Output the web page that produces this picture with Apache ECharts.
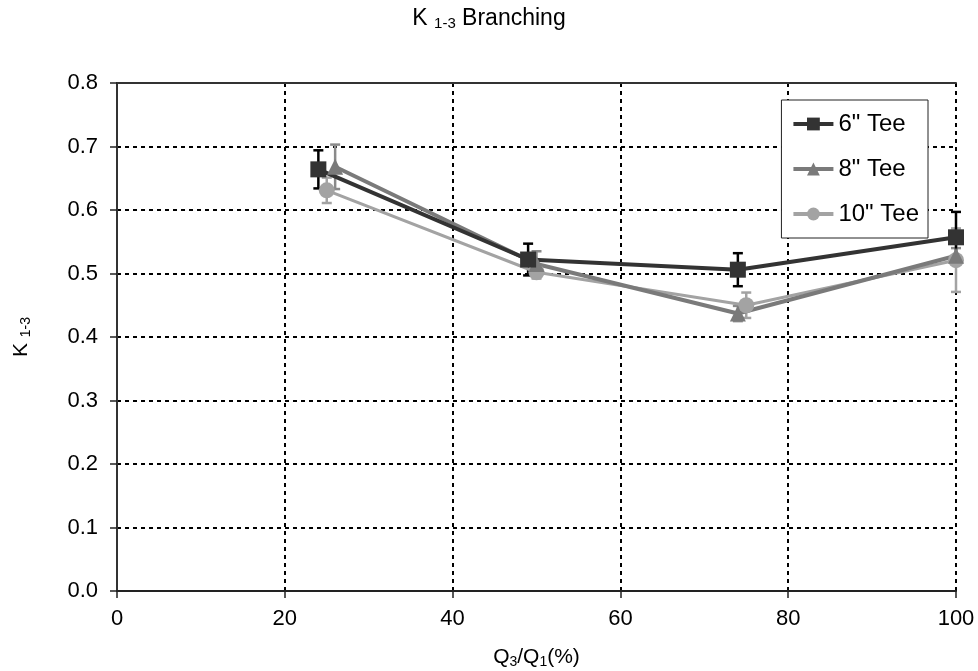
<!DOCTYPE html>
<html><head><meta charset="utf-8">
<script src="https://cdn.jsdelivr.net/npm/echarts@6/dist/echarts.min.js"></script>
<style>html,body{margin:0;padding:0;background:#fff}#c{width:978px;height:671px}</style>
</head><body><div id="c"></div>
<script>
const seriesNames = ['6" Tee', '8" Tee', '10" Tee'];
const x6 = [24, 49, 74, 100];
const y6 = [0.664, 0.522, 0.506, 0.557];
const e6 = [0.03, 0.025, 0.026, 0.04];
const x8 = [26, 50, 74, 100];
const y8 = [0.668, 0.515, 0.437, 0.528];
const e8 = [0.035, 0.02, 0.012, 0.012];
const x10 = [25, 50, 75, 100];
const y10 = [0.631, 0.502, 0.450, 0.521];
const e10 = [0.02, 0.01, 0.02, 0.05];
const colors = ['#333333', '#7a7a7a', '#a3a3a3'];
const capColors = ['#000000', '#8a8a8a', '#a3a3a3'];
const symbols = ['rect', 'triangle', 'circle'];
const sizes = [16, 16, 16];
const widths = [4, 4, 3];
const xTicks = [0, 20, 40, 60, 80, 100];
const yTicks = [0, 0.1, 0.2, 0.3, 0.4, 0.5, 0.6, 0.7, 0.8];

const F = 'Liberation Sans, Arial, sans-serif';
const FS = 22;
const groups = [[x6, y6, e6], [x8, y8, e8], [x10, y10, e10]];

function errSeries(i) {
  const [xs, ys, es] = groups[i];
  return {
    type: 'custom', name: seriesNames[i] + ' err', silent: true, z: 3,
    data: xs.map((x, k) => [x, ys[k] - es[k], ys[k] + es[k]]),
    renderItem: function (params, api) {
      const lo = api.coord([api.value(0), api.value(1)]);
      const hi = api.coord([api.value(0), api.value(2)]);
      const w = 5;
      const st = { stroke: capColors[i], lineWidth: 2.5 };
      return { type: 'group', children: [
        { type: 'line', shape: { x1: lo[0], y1: lo[1], x2: hi[0], y2: hi[1] }, style: st },
        { type: 'line', shape: { x1: lo[0] - w, y1: lo[1], x2: lo[0] + w, y2: lo[1] }, style: st },
        { type: 'line', shape: { x1: hi[0] - w, y1: hi[1], x2: hi[0] + w, y2: hi[1] }, style: st }
      ]};
    }
  };
}
function lineSeries(i) {
  const [xs, ys] = groups[i];
  return {
    type: 'line', name: seriesNames[i], z: 4,
    data: xs.map((x, k) => [x, ys[k]]),
    symbol: symbols[i], symbolSize: sizes[i], showSymbol: true,
    lineStyle: { color: colors[i], width: widths[i] },
    itemStyle: { color: colors[i] },
    emphasis: { disabled: true }
  };
}
function richOf(size, sub, pad) {
  return {
    a: { fontFamily: F, fontSize: size, color: '#000', fontWeight: 'normal' },
    s: { fontFamily: F, fontSize: sub, color: '#000', fontWeight: 'normal', verticalAlign: 'bottom', padding: [pad, 0, 0, 0] }
  };
}
const gridLine = { color: '#000', type: [4, 4], width: 2 };

const chart = echarts.init(document.getElementById('c'));
chart.setOption({
  animation: false,
  backgroundColor: '#fff',
  title: {
    text: '{a|K }{s|1-3}{a| Branching}', left: 'center', top: 1,
    textStyle: { fontWeight: 'normal', rich: richOf(23, 15, 10) }
  },
  grid: { left: 117, right: 22, top: 83, bottom: 80, containLabel: false, outerBoundsMode: 'none' },
  legend: {
    orient: 'vertical', right: 50, top: 100,
    data: seriesNames,
    backgroundColor: '#fff', borderColor: '#222', borderWidth: 1,
    padding: [12, 9, 12, 10], itemGap: 21, itemWidth: 40, itemHeight: 16,
    lineStyle: { width: 4 },
    textStyle: { fontFamily: F, fontSize: 24, color: '#000' }
  },
  xAxis: [{
    type: 'value', min: 0, max: 100, interval: 20,
    name: '{a|Q}{s|3}{a|/Q}{s|1}{a|(%)}', nameLocation: 'middle', nameGap: 54,
    nameTextStyle: { rich: richOf(21, 14, 10) },
    axisLine: { show: true, onZero: false, lineStyle: { color: '#222', width: 2 } },
    axisTick: { show: true, inside: false, length: 7, lineStyle: { color: '#222', width: 1.5 } },
    axisLabel: { fontFamily: F, fontSize: FS, color: '#000', margin: 17 },
    splitLine: { show: true, lineStyle: gridLine }
  }, {
    type: 'value', min: 0, max: 100, interval: 20, position: 'top',
    axisLine: { show: true, onZero: false, lineStyle: { color: '#333', width: 2 } },
    axisTick: { show: false }, axisLabel: { show: false }, splitLine: { show: false }
  }],
  yAxis: [{
    type: 'value', min: 0, max: 0.8, interval: 0.1,
    name: '{a|K }{s|1-3}', nameLocation: 'middle', nameGap: 84, nameRotate: 90,
    nameTextStyle: { rich: richOf(21, 14, 10) },
    axisLine: { show: true, lineStyle: { color: '#222', width: 2 } },
    axisTick: { show: true, length: 7, lineStyle: { color: '#222', width: 1.5 } },
    axisLabel: { fontFamily: F, fontSize: FS, color: '#000', margin: 19, formatter: v => v.toFixed(1) },
    splitLine: { show: true, lineStyle: gridLine }
  }, {
    type: 'value', min: 0, max: 0.8, interval: 0.1, position: 'right',
    axisLine: { show: true, lineStyle: { color: '#333', width: 2 } },
    axisTick: { show: false }, axisLabel: { show: false }, splitLine: { show: false }
  }],
  series: [errSeries(2), errSeries(1), errSeries(0), lineSeries(2), lineSeries(1), lineSeries(0)]
});
</script></body></html>
